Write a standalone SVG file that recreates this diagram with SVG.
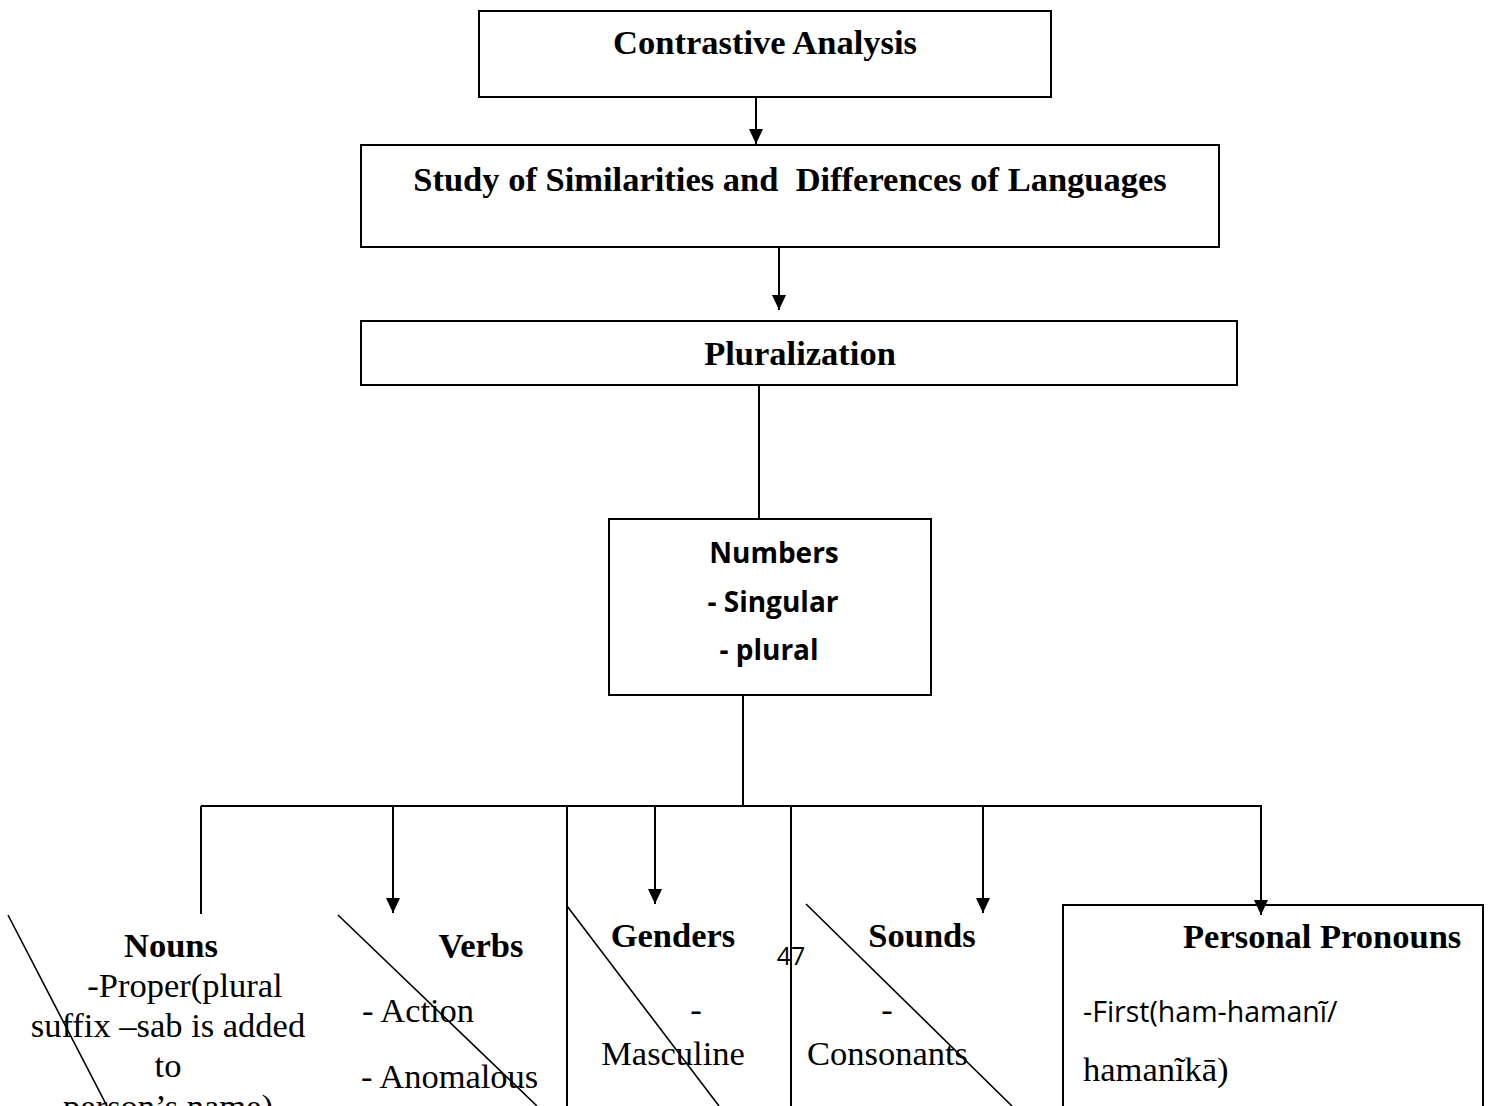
<svg xmlns="http://www.w3.org/2000/svg" width="1492" height="1106" viewBox="0 0 1492 1106">
<style>
.box{fill:#fff;stroke:#000;stroke-width:2}
.ln{stroke:#000;stroke-width:2;fill:none}
.dg{stroke:#000;stroke-width:1.6;fill:none}
.tb{font-family:"Liberation Serif",serif;font-weight:bold;font-size:34.5px;fill:#000}
.tr{font-family:"Liberation Serif",serif;font-size:34.5px;fill:#000}
.sb{font-family:"Open Sans",sans-serif;font-weight:bold;font-size:28px;fill:#000}
.sr{font-family:"Open Sans",sans-serif;font-size:28.5px;fill:#000}
</style>
<defs>
<marker id="ad" markerWidth="14" markerHeight="15" refX="7" refY="15" orient="0" markerUnits="userSpaceOnUse" viewBox="0 0 14 15">
<path d="M0,0 L14,0 L7,15 Z" fill="#000"/>
</marker>
</defs>
<rect width="1492" height="1106" fill="#fff"/>

<g id="n-contrastive">
<rect class="box" x="479" y="11" width="572" height="86"/>
<text class="tb" x="765" y="54" text-anchor="middle">Contrastive Analysis</text>
</g>

<g id="n-study">
<rect class="box" x="361" y="145" width="858" height="102"/>
<text class="tb" x="790" y="191" text-anchor="middle" xml:space="preserve">Study of Similarities and  Differences of Languages</text>
</g>

<g id="n-pluralization">
<rect class="box" x="361" y="321" width="876" height="64"/>
<text class="tb" x="800" y="365" text-anchor="middle">Pluralization</text>
</g>

<g id="n-numbers">
<rect class="box" x="609" y="519" width="322" height="176"/>
<text class="sb" x="774" y="563" text-anchor="middle">Numbers</text>
<text class="sb" x="773" y="612" text-anchor="middle">- Singular</text>
<text class="sb" x="769" y="660" text-anchor="middle">- plural</text>
</g>

<g id="n-nouns">
<line class="dg" x1="8" y1="915" x2="107" y2="1106"/>
<text class="tb" x="171" y="957" text-anchor="middle">Nouns</text>
<text class="tr" x="185" y="997" text-anchor="middle">-Proper(plural</text>
<text class="tr" x="168" y="1037" text-anchor="middle">suffix –sab is added</text>
<text class="tr" x="168" y="1077" text-anchor="middle">to</text>
<text class="tr" x="168" y="1118" text-anchor="middle">person’s name)</text>
</g>

<g id="n-verbs">
<line class="dg" x1="338" y1="915" x2="537" y2="1106"/>
<text class="tb" x="481" y="957" text-anchor="middle">Verbs</text>
<text class="tr" x="362" y="1022">- Action</text>
<text class="tr" x="361" y="1088">- Anomalous</text>
</g>

<g id="n-genders">
<line class="dg" x1="567" y1="906" x2="719" y2="1106"/>
<text class="tb" x="673" y="947" text-anchor="middle">Genders</text>
<text class="tr" x="696" y="1021" text-anchor="middle">-</text>
<text class="tr" x="673" y="1065" text-anchor="middle">Masculine</text>
</g>

<text id="page-number" font-family="'Open Sans',sans-serif" font-size="25px" x="791" y="965" text-anchor="middle">47</text>

<g id="n-sounds">
<line class="dg" x1="806" y1="904" x2="1012" y2="1106"/>
<text class="tb" x="922" y="947" text-anchor="middle">Sounds</text>
<text class="tr" x="887" y="1021" text-anchor="middle">-</text>
<text class="tr" x="807" y="1065">Consonants</text>
</g>

<g id="n-pronouns">
<rect class="box" x="1063" y="905" width="420" height="220"/>
<text class="tb" x="1183" y="948">Personal Pronouns</text>
<text class="sr" x="1083" y="1022">-First(ham-hamanĩ/</text>
<text class="tr" x="1083" y="1081">hamanĩkā)</text>
</g>

<g id="connectors">
<line class="ln" x1="756" y1="97" x2="756" y2="144" marker-end="url(#ad)"/>
<line class="ln" x1="779" y1="247" x2="779" y2="310" marker-end="url(#ad)"/>
<line class="ln" x1="759" y1="385" x2="759" y2="519"/>
<line class="ln" x1="743" y1="695" x2="743" y2="806"/>
<line class="ln" x1="201" y1="806" x2="1262" y2="806"/>
<line class="ln" x1="201" y1="806" x2="201" y2="914"/>
<line class="ln" x1="393" y1="806" x2="393" y2="913" marker-end="url(#ad)"/>
<line class="ln" x1="567" y1="806" x2="567" y2="1106"/>
<line class="ln" x1="655" y1="806" x2="655" y2="904" marker-end="url(#ad)"/>
<line class="ln" x1="791" y1="806" x2="791" y2="1106"/>
<line class="ln" x1="983" y1="806" x2="983" y2="913" marker-end="url(#ad)"/>
<line class="ln" x1="1261" y1="806" x2="1261" y2="915" marker-end="url(#ad)"/>
</g>
</svg>
